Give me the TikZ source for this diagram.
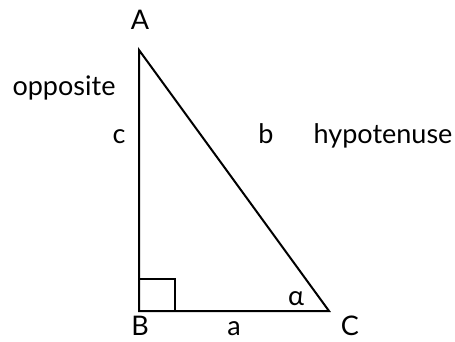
\documentclass[tikz,border=0pt]{standalone}
\usepackage{fontspec}
\setmainfont{Lato}
\usetikzlibrary{positioning}

\begin{document}
\begin{tikzpicture}[x=1pt,y=-1pt,font=\fontsize{27}{32}\selectfont,
  side/.style={line width=2pt,line join=miter},
  lbl/.style={inner sep=0pt,anchor=base}]
\useasboundingbox (0,0) rectangle (455,342);
\coordinate (A) at (139,50);
\coordinate (B) at (139,311);
\coordinate (C) at (329,311);
\draw[side] (A) -- (B) -- (C) -- cycle;
\draw[side] (139,279) -- (175,279) -- (175,311);
\node[lbl] (lA) at (140,30) {A};
\node[lbl] (lB) at (140,335) {B};
\node[lbl] (lC) at (350,335) {C};
\node[lbl] (la) at (234,335) {a};
\node[lbl] (lb) at (266,143) {b};
\node[lbl] (lc) at (119,143) {c};
\node[lbl] (lalpha) at (296,305) {α};
\node[lbl] (opp) at (64,96) {opposite};
\node[lbl] (hyp) at (383,143) {hypotenuse};
\end{tikzpicture}
\end{document}
